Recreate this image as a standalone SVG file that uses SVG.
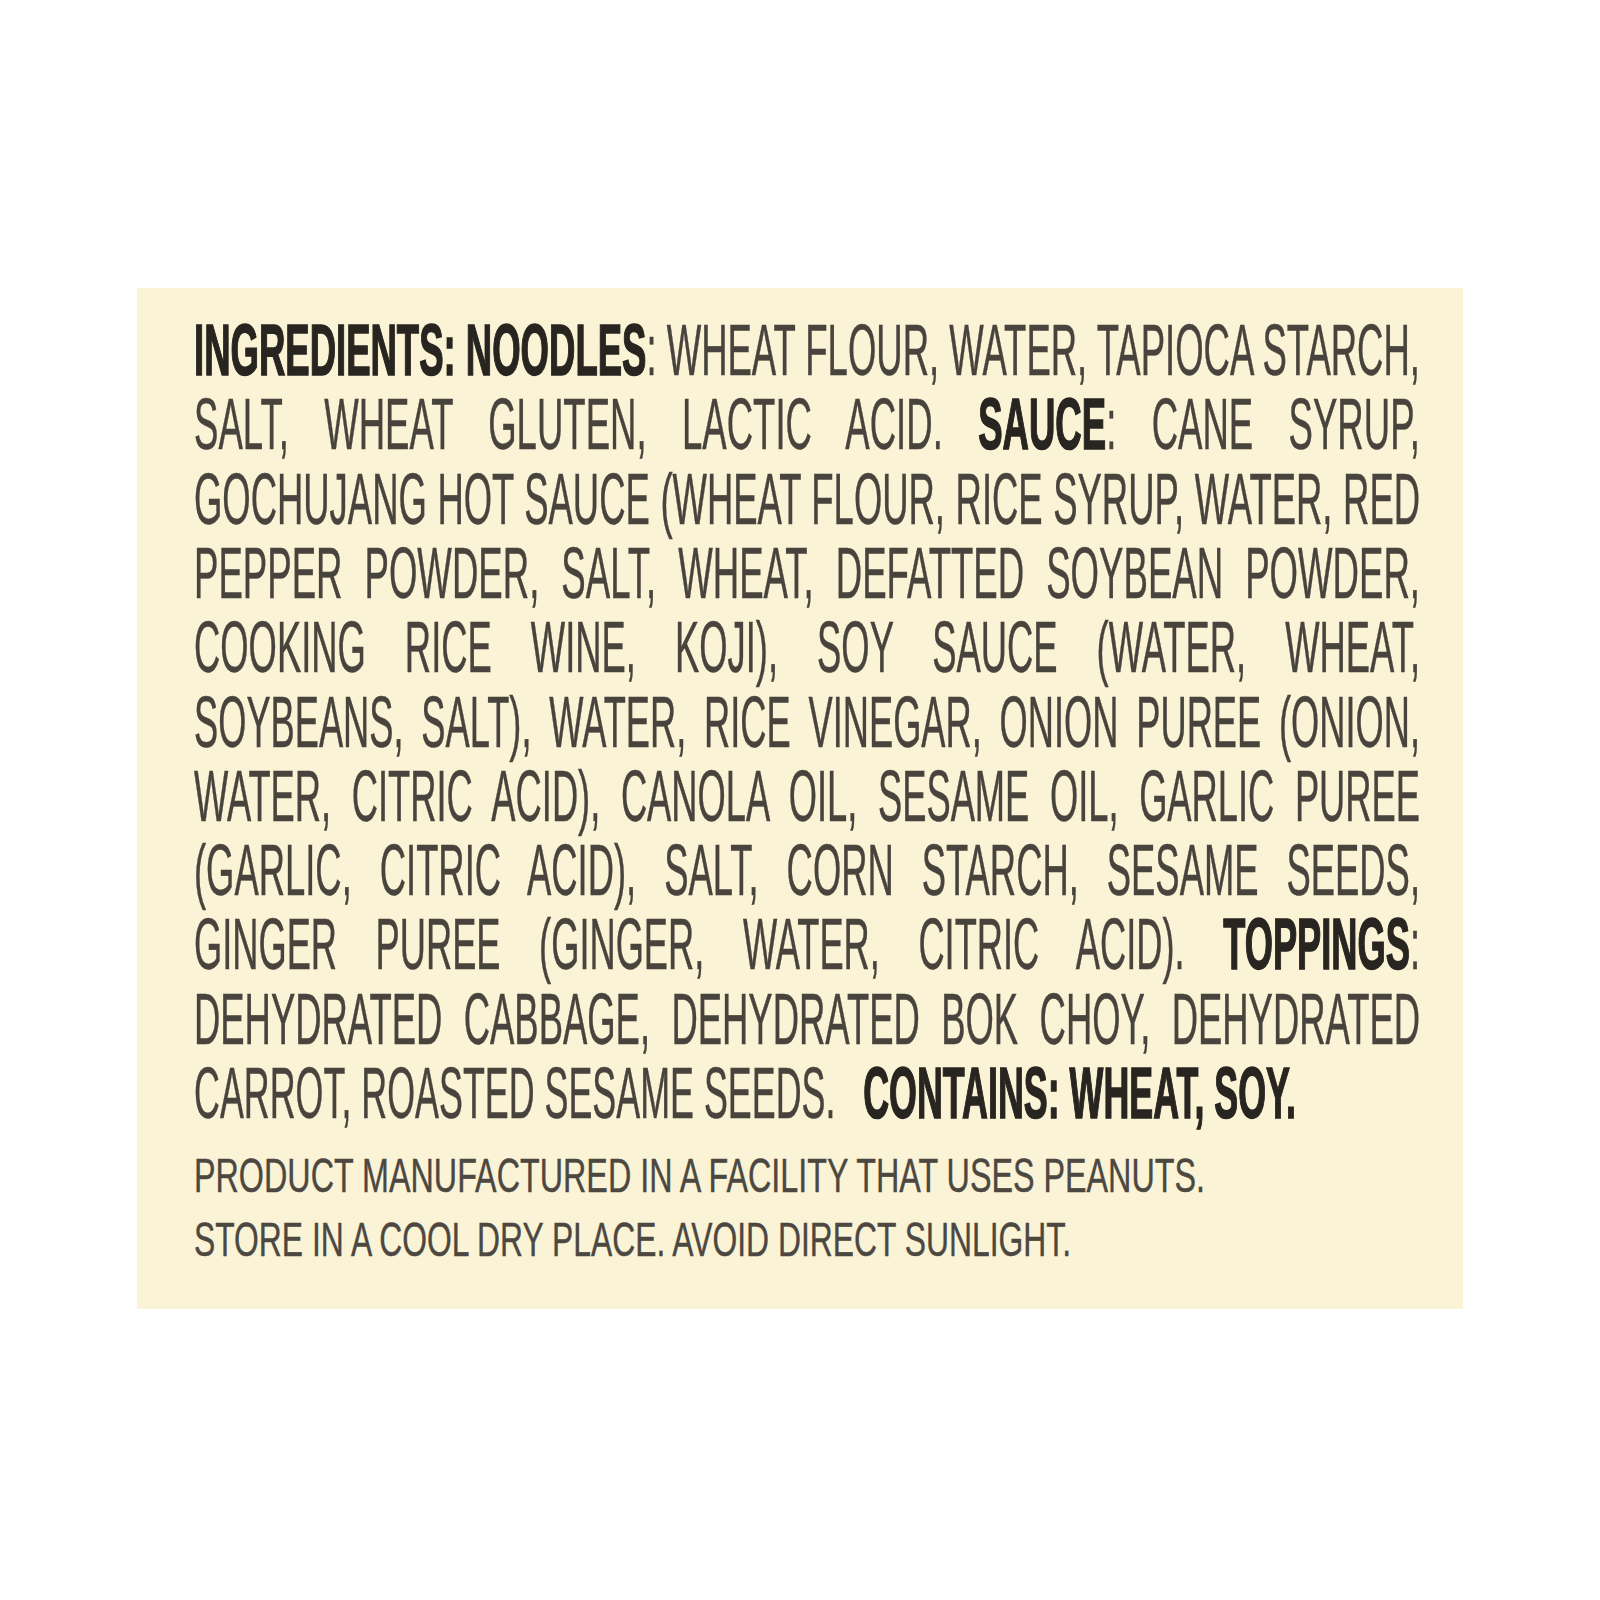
<svg xmlns="http://www.w3.org/2000/svg" width="1600" height="1600" viewBox="0 0 1600 1600">
<style>
.t{font-family:"Liberation Sans",Arial,sans-serif;font-size:72.5px;fill:#48443d;stroke:#48443d;stroke-width:0.5;}
.b{font-weight:bold;fill:#282420;stroke:#282420;stroke-width:1.6;}
.s{font-family:"Liberation Sans",Arial,sans-serif;font-size:47.5px;fill:#4c4841;stroke:#4c4841;stroke-width:0.4;}
</style>
<rect width="1600" height="1600" fill="#ffffff"/>
<g id="label">
<rect x="137" y="288" width="1326" height="1021" fill="#faf3d6"/>
</g>
<g id="ingredients">
<text class="t" x="194" y="375" textLength="1226" lengthAdjust="spacingAndGlyphs" word-spacing="0"><tspan class="b">INGREDIENTS: NOODLES</tspan>: WHEAT FLOUR, WATER, TAPIOCA STARCH,</text>
<text class="t" x="194" y="449.3" textLength="1226" lengthAdjust="spacingAndGlyphs" word-spacing="50">SALT, WHEAT GLUTEN, LACTIC ACID. <tspan class="b">SAUCE</tspan>: CANE SYRUP,</text>
<text class="t" x="194" y="523.6" textLength="1226" lengthAdjust="spacingAndGlyphs" word-spacing="1">GOCHUJANG HOT SAUCE (WHEAT FLOUR, RICE SYRUP, WATER, RED</text>
<text class="t" x="194" y="597.9" textLength="1226" lengthAdjust="spacingAndGlyphs" word-spacing="23.4">PEPPER POWDER, SALT, WHEAT, DEFATTED SOYBEAN POWDER,</text>
<text class="t" x="194" y="672.2" textLength="1226" lengthAdjust="spacingAndGlyphs" word-spacing="57.5">COOKING RICE WINE, KOJI), SOY SAUCE (WATER, WHEAT,</text>
<text class="t" x="194" y="746.5" textLength="1226" lengthAdjust="spacingAndGlyphs" word-spacing="15.5">SOYBEANS, SALT), WATER, RICE VINEGAR, ONION PUREE (ONION,</text>
<text class="t" x="194" y="820.8" textLength="1226" lengthAdjust="spacingAndGlyphs" word-spacing="21">WATER, CITRIC ACID), CANOLA OIL, SESAME OIL, GARLIC PUREE</text>
<text class="t" x="194" y="895.1" textLength="1226" lengthAdjust="spacingAndGlyphs" word-spacing="35.6">(GARLIC, CITRIC ACID), SALT, CORN STARCH, SESAME SEEDS,</text>
<text class="t" x="194" y="969.4" textLength="1226" lengthAdjust="spacingAndGlyphs" word-spacing="57">GINGER PUREE (GINGER, WATER, CITRIC ACID). <tspan class="b">TOPPINGS</tspan>:</text>
<text class="t" x="194" y="1043.7" textLength="1226" lengthAdjust="spacingAndGlyphs" word-spacing="22.5">DEHYDRATED CABBAGE, DEHYDRATED BOK CHOY, DEHYDRATED</text>
<text class="t" x="194" y="1118" textLength="1102" lengthAdjust="spacingAndGlyphs">CARROT, ROASTED SESAME SEEDS. <tspan class="b" dx="36">CONTAINS: WHEAT, SOY.</tspan></text>
</g>
<g id="notes">
<text class="s" x="194" y="1192" textLength="1011" lengthAdjust="spacingAndGlyphs">PRODUCT MANUFACTURED IN A FACILITY THAT USES PEANUTS.</text>
<text class="s" x="194" y="1256" textLength="877" lengthAdjust="spacingAndGlyphs">STORE IN A COOL DRY PLACE. AVOID DIRECT SUNLIGHT.</text>
</g>
</svg>
